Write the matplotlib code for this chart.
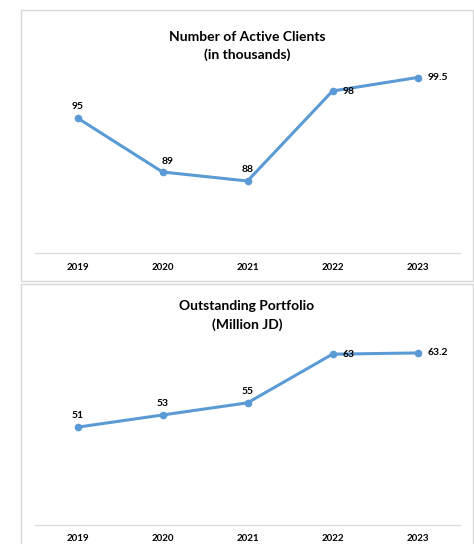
import matplotlib
matplotlib.use("Agg")
from matplotlib import pyplot as plt
from matplotlib.patches import Rectangle

YEARS = ["2019", "2020", "2021", "2022", "2023"]
CLIENTS = [95, 89, 88, 98, 99.5]
PORTFOLIO = [51, 53, 55, 63, 63.2]

LINE_COLOR = "#5B9BD5"
GRID_COLOR = "#D9D9D9"
W, H = 474, 544

plt.rcParams["font.family"] = ["Lato", "DejaVu Sans"]

fig = plt.figure(figsize=(W / 100, H / 100), dpi=100)


def px_box(left, top, right, bottom):
    # pixel box (from top-left) -> figure fraction [x, y, w, h]
    return [left / W, 1 - bottom / H, (right - left) / W, (bottom - top) / H]


def panel_border(top, bottom):
    x, y, w, h = px_box(21, top, 473, bottom)
    fig.patches.append(Rectangle((x, y), w, h, transform=fig.transFigure,
                                 fill=False, edgecolor=GRID_COLOR, lw=1))


def draw_panel(box, values, ylim, title, title_y, label_pos):
    ax = fig.add_axes(box)
    x = range(len(YEARS))
    ax.plot(x, values, color=LINE_COLOR, lw=2.2, marker="o", ms=4.5)
    ax.set_xlim(-0.5, len(YEARS) - 0.5)
    ax.set_ylim(*ylim)
    ax.set_xticks(list(x))
    ax.set_xticklabels(YEARS, fontsize=7, fontweight="bold")
    ax.tick_params(axis="x", length=0, pad=7)
    ax.set_yticks([])
    for s in ["top", "left", "right"]:
        ax.spines[s].set_visible(False)
    ax.spines["bottom"].set_color(GRID_COLOR)
    ax.patch.set_alpha(0)

    for i, (v, pos) in enumerate(zip(values, label_pos)):
        if pos == "above":
            ax.annotate(f"{v:g}", (i, v), xytext=(0, 5), textcoords="offset points",
                        ha="center", va="bottom", fontsize=7.5, fontweight="bold")
        elif pos == "aboveright":
            ax.annotate(f"{v:g}", (i, v), xytext=(4, 4), textcoords="offset points",
                        ha="center", va="bottom", fontsize=7.5, fontweight="bold")
        else:
            ax.annotate(f"{v:g}", (i, v), xytext=(7, 0), textcoords="offset points",
                        ha="left", va="center", fontsize=7.5, fontweight="bold")

    for line, ty in zip(title, title_y):
        fig.text(247 / W, 1 - ty / H, line, ha="center", va="center",
                 fontsize=10, fontweight="bold")


panel_border(10, 281)
panel_border(284, 560)

draw_panel(px_box(35, 73, 460, 253), CLIENTS, (80, 100),
           ["Number of Active Clients", "(in thousands)"], [37, 55],
           ["above", "aboveright", "above", "right", "right"])

draw_panel(px_box(35, 342, 460, 524.5), PORTFOLIO, (35, 65),
           ["Outstanding Portfolio", "(Million JD)"], [306, 325],
           ["above", "above", "above", "right", "right"])

fig.savefig("out.png", dpi=100)
